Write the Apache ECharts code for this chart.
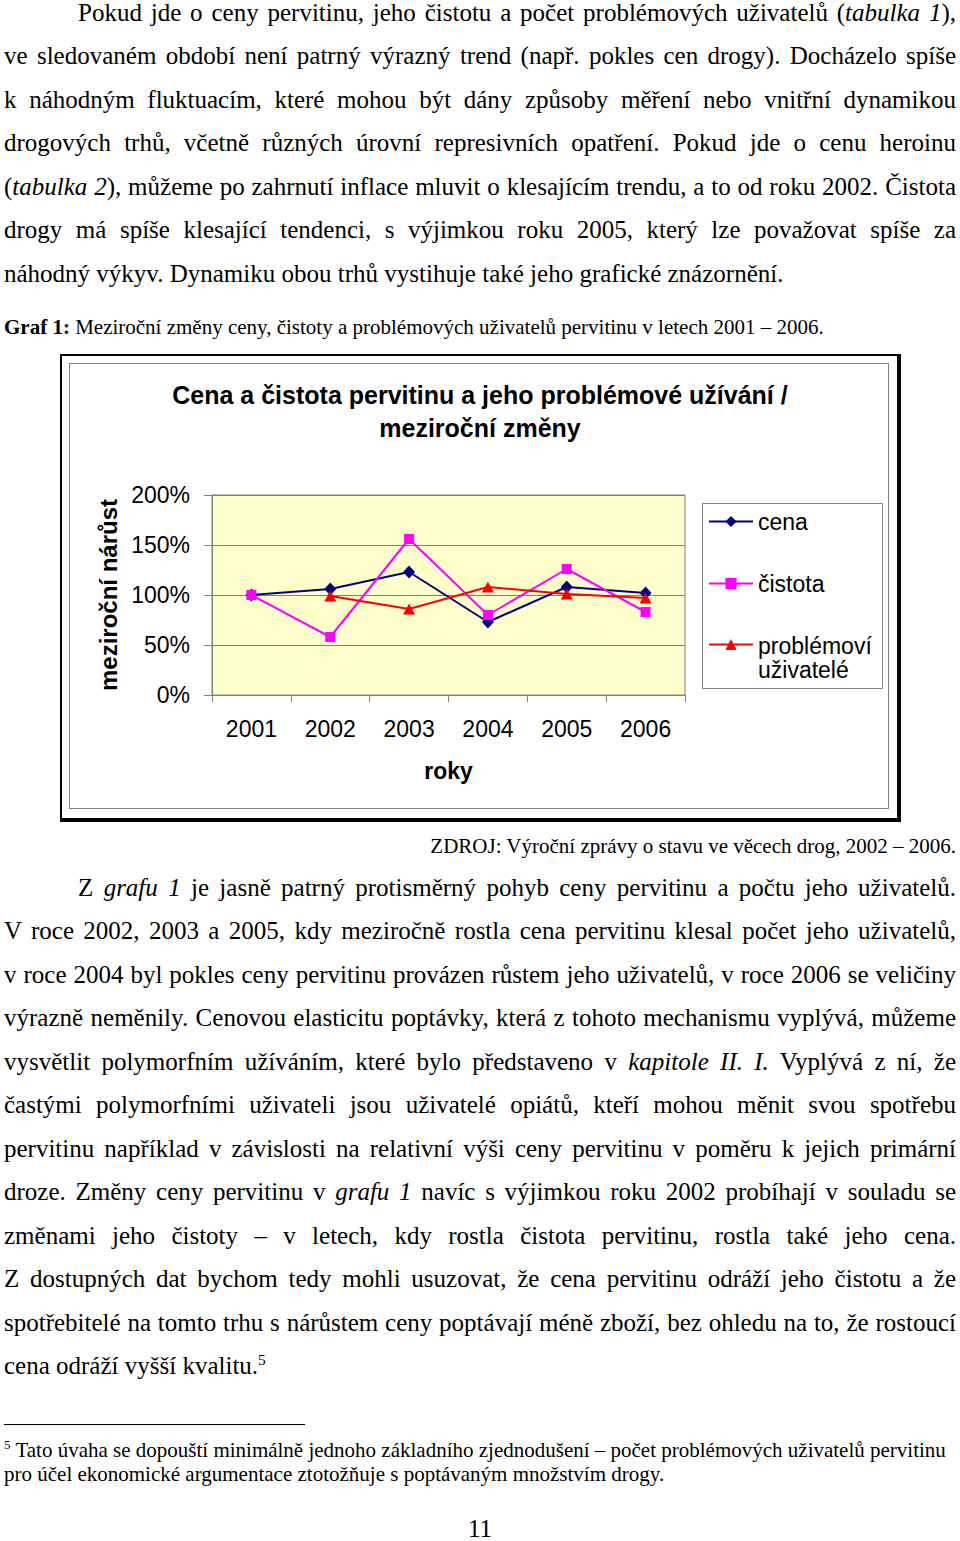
<!DOCTYPE html>
<html>
<head>
<meta charset="utf-8">
<script src="https://cdn.jsdelivr.net/npm/echarts@6/dist/echarts.min.js"></script>
<style>
  html,body{margin:0;padding:0;background:#fff;}
  body{width:960px;height:1541px;position:relative;overflow:hidden;font-family:"Liberation Serif","Times New Roman",serif;color:#000;}
  .para{position:absolute;left:4px;width:952px;font-size:25px;line-height:43.45px;}
  .ln{display:block;white-space:nowrap;text-align:justify;text-align-last:justify;}
  .ln.last{text-align:left;text-align-last:left;}
  .ind{padding-left:74px;}
  .small{position:absolute;font-size:21px;line-height:24px;white-space:nowrap;}
  sup{font-size:62%;line-height:0;vertical-align:super;}
</style>
</head>
<body>
<div class="para" style="top:-9px;">
  <span class="ln ind">Pokud jde o ceny pervitinu, jeho čistotu a počet problémových uživatelů (<i>tabulka 1</i>),</span>
  <span class="ln">ve sledovaném období není patrný výrazný trend (např. pokles cen drogy). Docházelo spíše</span>
  <span class="ln">k náhodným fluktuacím, které mohou být dány způsoby měření nebo vnitřní dynamikou</span>
  <span class="ln">drogových trhů, včetně různých úrovní represivních opatření. Pokud jde o cenu heroinu</span>
  <span class="ln">(<i>tabulka 2</i>), můžeme po zahrnutí inflace mluvit o klesajícím trendu, a to od roku 2002. Čistota</span>
  <span class="ln">drogy má spíše klesající tendenci, s výjimkou roku 2005, který lze považovat spíše za</span>
  <span class="ln last">náhodný výkyv. Dynamiku obou trhů vystihuje také jeho grafické znázornění.</span>
</div>
<div class="small" style="left:4px;top:315px;"><b>Graf 1:</b> Meziroční změny ceny, čistoty a problémových uživatelů pervitinu v letech 2001 – 2006.</div>

<div style="position:absolute;left:60px;top:354px;width:835px;height:462px;border-style:solid;border-color:#000;border-width:2px 4px 4px 2px;"></div>
<div style="position:absolute;left:69px;top:363px;width:818px;height:444px;border:1px solid #808080;"></div>
<div id="chart" style="position:absolute;left:60px;top:353px;width:840px;height:470px;"></div>

<div class="small" style="right:4px;top:834px;">ZDROJ: Výroční zprávy o stavu ve věcech drog, 2002 – 2006.</div>

<div class="para" style="top:866px;">
  <span class="ln ind">Z <i>grafu 1</i> je jasně patrný protisměrný pohyb ceny pervitinu a počtu jeho uživatelů.</span>
  <span class="ln">V roce 2002, 2003 a 2005, kdy meziročně rostla cena pervitinu klesal počet jeho uživatelů,</span>
  <span class="ln">v roce 2004 byl pokles ceny pervitinu provázen růstem jeho uživatelů, v roce 2006 se veličiny</span>
  <span class="ln">výrazně neměnily. Cenovou elasticitu poptávky, která z tohoto mechanismu vyplývá, můžeme</span>
  <span class="ln">vysvětlit polymorfním užíváním, které bylo představeno v <i>kapitole II. I.</i> Vyplývá z ní, že</span>
  <span class="ln">častými polymorfními uživateli jsou uživatelé opiátů, kteří mohou měnit svou spotřebu</span>
  <span class="ln">pervitinu například v závislosti na relativní výši ceny pervitinu v poměru k jejich primární</span>
  <span class="ln">droze. Změny ceny pervitinu v <i>grafu 1</i> navíc s výjimkou roku 2002 probíhají v souladu se</span>
  <span class="ln">změnami jeho čistoty – v letech, kdy rostla čistota pervitinu, rostla také jeho cena.</span>
  <span class="ln">Z dostupných dat bychom tedy mohli usuzovat, že cena pervitinu odráží jeho čistotu a že</span>
  <span class="ln">spotřebitelé na tomto trhu s nárůstem ceny poptávají méně zboží, bez ohledu na to, že rostoucí</span>
  <span class="ln last">cena odráží vyšší kvalitu.<sup>5</sup></span>
</div>

<div style="position:absolute;left:4px;top:1424px;width:301px;height:1px;background:#000;"></div>
<div class="small" style="left:4px;top:1438px;"><sup>5</sup> Tato úvaha se dopouští minimálně jednoho základního zjednodušení – počet problémových uživatelů pervitinu</div>
<div class="small" style="left:4px;top:1462px;">pro účel ekonomické argumentace ztotožňuje s poptávaným množstvím drogy.</div>
<div style="position:absolute;left:0;width:960px;top:1514px;text-align:center;font-size:25px;line-height:30px;">11</div>

<script>
const years = ['2001', '2002', '2003', '2004', '2005', '2006'];
const cena = [100, 106, 123, 73, 108, 102];
const cistota = [100, 58, 156, 80, 126, 83];
const uzivatele = [null, 99, 86, 108, 101, 97];
const seriesNames = ['cena', 'čistota', 'problémoví uživatelé'];
const yMin = 0, yMax = 200, yStep = 50;

const chart = echarts.init(document.getElementById('chart'), null, {renderer: 'svg'});
const sans = '"Liberation Sans", Arial, sans-serif';
const grey = '#808080';
const legendBase = {
  orient: 'vertical', left: 648, padding: 0, itemWidth: 44, itemHeight: 14, itemGap: 0,
  textStyle: {fontFamily: sans, fontSize: 23, color: '#000', lineHeight: 25},
  selectedMode: false
};
chart.setOption({
  backgroundColor: 'transparent',
  animation: false,
  title: {
    text: 'Cena a čistota pervitinu a jeho problémové užívání /\nmeziroční změny',
    left: 'center', top: 25, padding: 0,
    textStyle: {fontFamily: sans, fontSize: 25, fontWeight: 'bold', color: '#000', lineHeight: 33}
  },
  grid: {left: 152, top: 142, width: 473, height: 200, show: true,
         backgroundColor: '#FFFFCC', borderColor: grey, borderWidth: 1},
  graphic: [{type: 'rect', left: 642, top: 150, shape: {width: 180, height: 185},
             style: {fill: '#fff', stroke: grey, lineWidth: 1}, z: -1}],
  legend: [
    Object.assign({}, legendBase, {top: 156, data: [seriesNames[0]]}),
    Object.assign({}, legendBase, {top: 218, data: [seriesNames[1]]}),
    Object.assign({}, legendBase, {top: 281, data: [seriesNames[2]],
      formatter: function () { return '{a|problémoví}\n{b|uživatelé}'; },
      textStyle: {fontFamily: sans, fontSize: 23, color: '#000',
        rich: {a: {fontFamily: sans, fontSize: 23, lineHeight: 50, verticalAlign: 'bottom'},
               b: {fontFamily: sans, fontSize: 23, lineHeight: 25}}}})
  ],
  xAxis: {
    type: 'category', data: years, boundaryGap: true,
    axisLine: {lineStyle: {color: grey, width: 1}},
    axisTick: {show: true, length: 7, lineStyle: {color: grey}},
    axisLabel: {fontFamily: sans, fontSize: 23, color: '#000', margin: 22},
    name: 'roky', nameLocation: 'middle', nameGap: 64,
    nameTextStyle: {fontFamily: sans, fontSize: 23, fontWeight: 'bold', color: '#000'}
  },
  yAxis: {
    type: 'value', min: yMin, max: yMax, interval: yStep,
    axisLine: {show: true, lineStyle: {color: grey, width: 1}},
    axisTick: {show: true, length: 8, lineStyle: {color: grey}},
    splitLine: {show: true, lineStyle: {color: grey, width: 1}},
    axisLabel: {fontFamily: sans, fontSize: 23, color: '#000', margin: 22, formatter: '{value}%'},
    name: 'meziroční nárůst', nameLocation: 'middle', nameGap: 86,
    nameTextStyle: {fontFamily: sans, fontSize: 24, fontWeight: 'bold', color: '#000'}
  },
  series: [
    {name: seriesNames[0], type: 'line', data: cena, symbol: 'diamond', symbolSize: [12, 13],
     color: '#000080', lineStyle: {width: 2, color: '#000080'}, itemStyle: {color: '#000080'}},
    {name: seriesNames[1], type: 'line', data: cistota, symbol: 'rect', symbolSize: 10,
     color: '#FF00FF', lineStyle: {width: 2, color: '#FF00FF'}, itemStyle: {color: '#FF00FF'}},
    {name: seriesNames[2], type: 'line', data: uzivatele, symbol: 'triangle', symbolSize: [12, 11],
     color: '#FF0000', lineStyle: {width: 2, color: '#FF0000'}, itemStyle: {color: '#FF0000'}}
  ]
});
</script>
</body>
</html>
